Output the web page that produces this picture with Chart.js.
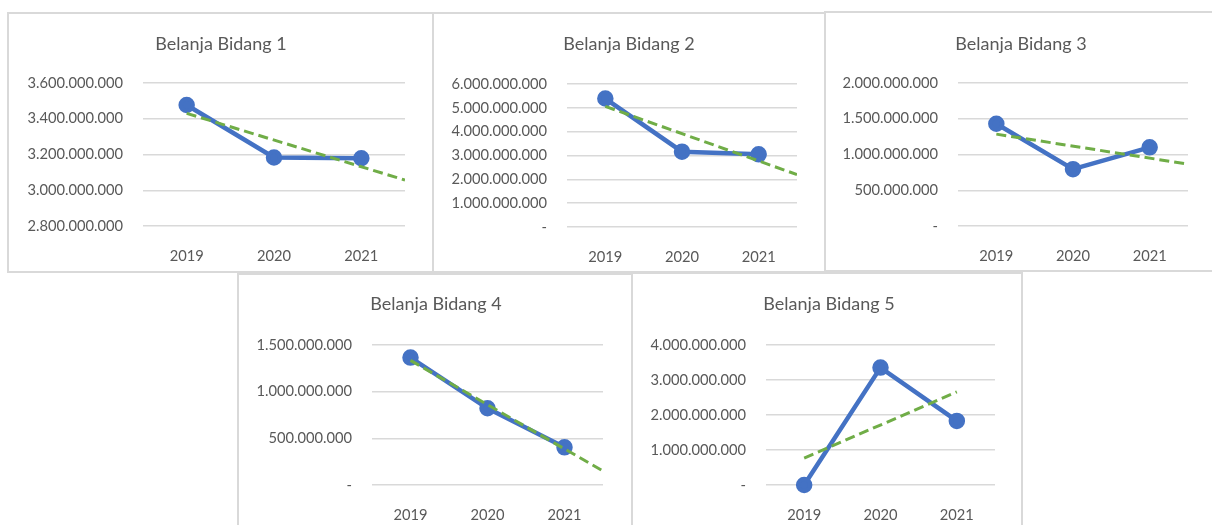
<!DOCTYPE html>
<html>
<head>
<meta charset="utf-8">
<script src="https://cdn.jsdelivr.net/npm/chart.js@4.4.1/dist/chart.umd.min.js"></script>
<style>
    body { margin: 0; background: #fff; width: 1212px; height: 525px; overflow: hidden; position: relative; }
    .panel { position: absolute; border: 2px solid #d9d9d9; box-sizing: border-box; background: #fff; }
    canvas { position: absolute; }
</style>
</head>
<body>
<div class="panel" style="left:7px;top:12px;width:427px;height:261px"></div>
<div class="panel" style="left:432px;top:12px;width:394px;height:261px"></div>
<div class="panel" style="left:824px;top:11px;width:392px;height:261px"></div>
<div class="panel" style="left:237px;top:273px;width:396px;height:260px"></div>
<div class="panel" style="left:631px;top:272px;width:392px;height:260px"></div>

<canvas id="chart1"></canvas>
<canvas id="chart2"></canvas>
<canvas id="chart3"></canvas>
<canvas id="chart4"></canvas>
<canvas id="chart5"></canvas>

<script>
// Spending per field, 2019-2021 (Rupiah)
const years = [2019, 2020, 2021];
const bidang1 = [3477000000, 3183000000, 3179000000];
const bidang2 = [5390000000, 3160000000, 3050000000];
const bidang3 = [1430000000, 795000000, 1100000000];
const bidang4 = [1365000000, 822000000, 404000000];
const bidang5 = [0, 3354000000, 1830000000];

// Linear trend lines: start/end years and values
const trendYears = [2019, 2021.5];
const trendYears5 = [2019, 2021];
const trend1 = [3430000000, 3057000000];
const trend2 = [5060000000, 2200000000];
const trend3 = [1285000000, 865000000];
const trend4 = [1335000000, 150000000];
const trend5 = [770000000, 2660000000];

// Axis ranges: [min, max, step]
const range1 = [2800000000, 3600000000, 200000000];
const range2 = [0, 6000000000, 1000000000];
const range3 = [0, 2000000000, 500000000];
const range4 = [0, 1500000000, 500000000];
const range5 = [0, 4000000000, 1000000000];

const FONT = 'Lato, "Liberation Sans", sans-serif';
const TEXT = '#595959';

function rupiah(v) {
    if (v === 0) return '-';
    return String(Math.round(v)).replace(/\B(?=(\d{3})+(?!\d))/g, '.');
}

// box = canvas rect on page, area = plot area rect on page,
// titleX / titleY = title centre on page
function makeChart(id, title, values, tYears, tValues, range, box, area, titleX, titleY) {
    const canvas = document.getElementById(id);
    canvas.style.left = box.x + 'px';
    canvas.style.top = box.y + 'px';
    canvas.style.width = box.w + 'px';
    canvas.style.height = box.h + 'px';
    canvas.width = box.w;
    canvas.height = box.h;

    const titleSize = 18;
    const titleLine = titleSize * 1.2;
    const padTop = titleY - box.y - titleLine / 2;
    const padBottom = area.t - box.y - padTop - titleLine;

    // centre the title on the panel rather than on the padded chart width
    const centreTitle = {
        id: 'centreTitle',
        afterLayout(chart) {
            const tb = chart.titleBlock;
            const c = titleX - box.x;
            const half = Math.min(c, box.w - c);
            tb.left = c - half;
            tb.right = c + half;
            tb.width = half * 2;
        }
    };

    new Chart(canvas, {
        type: 'line',
        data: {
            datasets: [
                {
                    data: tValues.map((v, i) => ({ x: tYears[i], y: v })),
                    borderColor: '#70AD47',
                    borderWidth: 3,
                    borderDash: [10, 5],
                    pointRadius: 0,
                    fill: false,
                    order: 0
                },
                {
                    data: values.map((v, i) => ({ x: years[i], y: v })),
                    borderColor: '#4472C4',
                    backgroundColor: '#4472C4',
                    borderWidth: 4.5,
                    pointRadius: 6,
                    pointBackgroundColor: '#4472C4',
                    pointBorderColor: '#4472C4',
                    tension: 0,
                    fill: false,
                    clip: false,
                    order: 1
                }
            ]
        },
        options: {
            responsive: false,
            animation: false,
            devicePixelRatio: 1,
            layout: { padding: { left: 0, top: 0, right: box.x + box.w - area.r, bottom: 0 } },
            plugins: {
                legend: { display: false },
                tooltip: { enabled: false },
                title: {
                    display: true,
                    text: title,
                    color: TEXT,
                    font: { family: FONT, size: titleSize, weight: 'normal', lineHeight: 1.2 },
                    padding: { top: padTop, bottom: padBottom }
                }
            },
            scales: {
                x: {
                    type: 'linear',
                    min: 2018.5,
                    max: 2021.5,
                    afterBuildTicks: s => { s.ticks = years.map(v => ({ value: v })); },
                    afterFit: s => { s.height = box.y + box.h - area.b; },
                    grid: { display: false },
                    border: { display: false },
                    ticks: {
                        color: TEXT,
                        padding: 13,
                        font: { family: FONT, size: 14.7 },
                        callback: v => String(v)
                    }
                },
                y: {
                    min: range[0],
                    max: range[1],
                    afterFit: s => { s.width = area.l - box.x; },
                    grid: { color: '#d9d9d9', lineWidth: 1.5, drawTicks: false },
                    border: { display: false },
                    ticks: {
                        stepSize: range[2],
                        color: TEXT,
                        padding: 20,
                        font: { family: FONT, size: 14.7 },
                        callback: v => rupiah(v)
                    }
                }
            }
        },
        plugins: [centreTitle]
    });
}

makeChart('chart1', 'Belanja Bidang 1', bidang1, trendYears, trend1, range1,
    { x: 9, y: 14, w: 421, h: 257 }, { l: 143, r: 405, t: 83, b: 226 }, 221, 44);
makeChart('chart2', 'Belanja Bidang 2', bidang2, trendYears, trend2, range2,
    { x: 434, y: 14, w: 388, h: 257 }, { l: 567, r: 797, t: 84, b: 227 }, 629, 44);
makeChart('chart3', 'Belanja Bidang 3', bidang3, trendYears, trend3, range3,
    { x: 826, y: 13, w: 386, h: 257 }, { l: 958, r: 1188, t: 83, b: 226 }, 1021, 44);
makeChart('chart4', 'Belanja Bidang 4', bidang4, trendYears, trend4, range4,
    { x: 239, y: 275, w: 390, h: 250 }, { l: 372, r: 603, t: 345, b: 485 }, 436, 304);
makeChart('chart5', 'Belanja Bidang 5', bidang5, trendYears5, trend5, range5,
    { x: 633, y: 274, w: 388, h: 251 }, { l: 766, r: 995, t: 345, b: 485 }, 829, 304);
</script>
</body>
</html>
